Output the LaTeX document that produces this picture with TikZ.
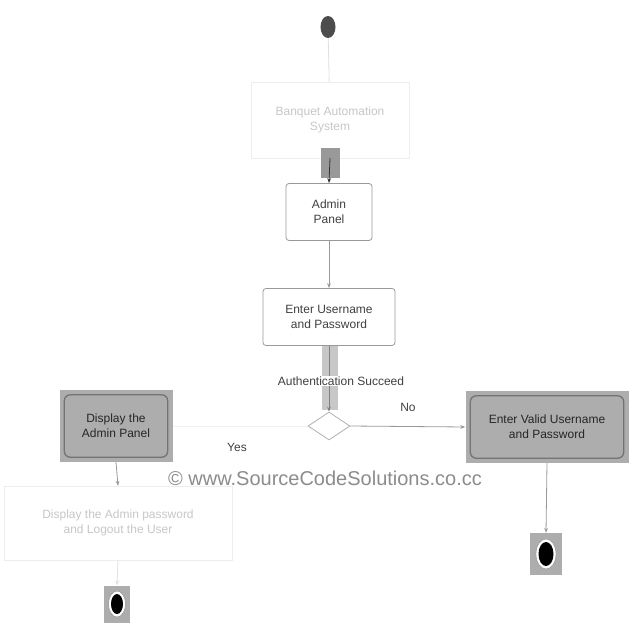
\documentclass[tikz,border=0pt]{standalone}
\usepackage{fontspec}
\setmainfont{Liberation Sans}
\usetikzlibrary{shapes.geometric,arrows.meta}

\tikzset{
  act/.style={draw=black!40, line width=0.8pt, rounded corners=3pt, fill=white,
    align=center, text=black!75, font=\fontsize{12}{15}\selectfont},
  faintact/.style={draw=black!7, fill=white, align=center, text=black!22,
    font=\fontsize{12}{15}\selectfont},
  grayact/.style={fill=black!32, align=center, text=black!85,
    font=\fontsize{12}{15}\selectfont},
  innerline/.style={draw=black!55, line width=1.3pt, rounded corners=6pt},
  flow/.style={draw=black!40, line width=0.8pt, -{Stealth[length=5pt]}},
  faintflow/.style={draw=black!12, line width=0.8pt},
  lbl/.style={text=black!75, font=\fontsize{12}{15}\selectfont}
}

\begin{document}
\begin{tikzpicture}[x=1pt, y=-1pt]
  \useasboundingbox[fill=white] (0,0) rectangle (640,640);

  % start
  \node[ellipse, fill=black!70, minimum width=15pt, minimum height=22pt, inner sep=0pt] (start) at (328,27) {};

  % activities
  \node[faintact, minimum width=158pt, minimum height=76pt] (banquet) at (330,120) {Banquet Automation\\System};
  \node[act, minimum width=86pt, minimum height=57pt] (admin) at (329,212) {Admin\\Panel};
  \node[act, minimum width=132pt, minimum height=57pt] (enter) at (329,317) {Enter Username\\and Password};
  \node[diamond, draw=black!30, line width=0.8pt, fill=white, minimum width=42pt, minimum height=28pt,
    inner sep=0pt, aspect=1.5] (dec) at (329,426) {};

  \node[grayact, minimum width=113pt, minimum height=72pt] (disp) at (116,426) {Display the\\Admin Panel};
  \draw[innerline] ([shift={(5,5)}]disp.north west) rectangle ([shift={(-5,-5)}]disp.south east);

  \node[grayact, minimum width=163pt, minimum height=72pt] (valid) at (547,427) {Enter Valid Username\\and Password};
  \draw[innerline] ([shift={(5,5)}]valid.north west) rectangle ([shift={(-5,-5)}]valid.south east);

  \node[faintact, minimum width=228pt, minimum height=74pt] (show) at (118,523) {Display the Admin password\\and Logout the User};

  % end states
  \node[fill=black!32, minimum width=26pt, minimum height=37pt, inner sep=0pt] (endA) at (117,604) {};
  \draw[black!45, fill=white] (endA) ellipse (8.5pt and 13pt);
  \fill[black] (endA) ellipse (6pt and 10pt);

  \node[fill=black!32, minimum width=32pt, minimum height=42pt, inner sep=0pt] (endB) at (546,554) {};
  \draw[black!45, fill=white] (endB) ellipse (10pt and 15pt);
  \fill[black] (endB) ellipse (7.5pt and 12pt);

  % flows
  \draw[faintflow] (start) -- (banquet);
  \fill[black!40] (321,148) rectangle (340,178);
  \draw[black!80, line width=0.8pt, -{Stealth[length=5pt]}] (banquet.south) -- (admin.north);
  \draw[flow] (admin) -- (enter);
  \fill[black!22] (322,346) rectangle (338,410);
  \draw[black!50, line width=1pt, -{Stealth[length=5pt]}] (enter.south) -- (dec.north);
  \node[lbl, fill=white, inner sep=1pt] (auth) at (341,381) {Authentication Succeed};
  \draw[flow] (dec.east) -- (valid.west);
  \node[lbl] (no) at (408,407) {No};
  \draw[draw=black!5, line width=0.8pt] (dec.west) -- (disp.east);
  \node[lbl] (yes) at (237,447) {Yes};
  \draw[flow] (disp.south) -- (show.north);
  \draw[faintflow, -{Stealth[length=5pt]}] (show.south) -- (endA.north);
  \draw[flow] (valid.south) -- (endB.north);

  % watermark
  \node[text=black!45, font=\fontsize{20}{24}\selectfont] (mark) at (325,478) {© www.SourceCodeSolutions.co.cc};
\end{tikzpicture}
\end{document}
